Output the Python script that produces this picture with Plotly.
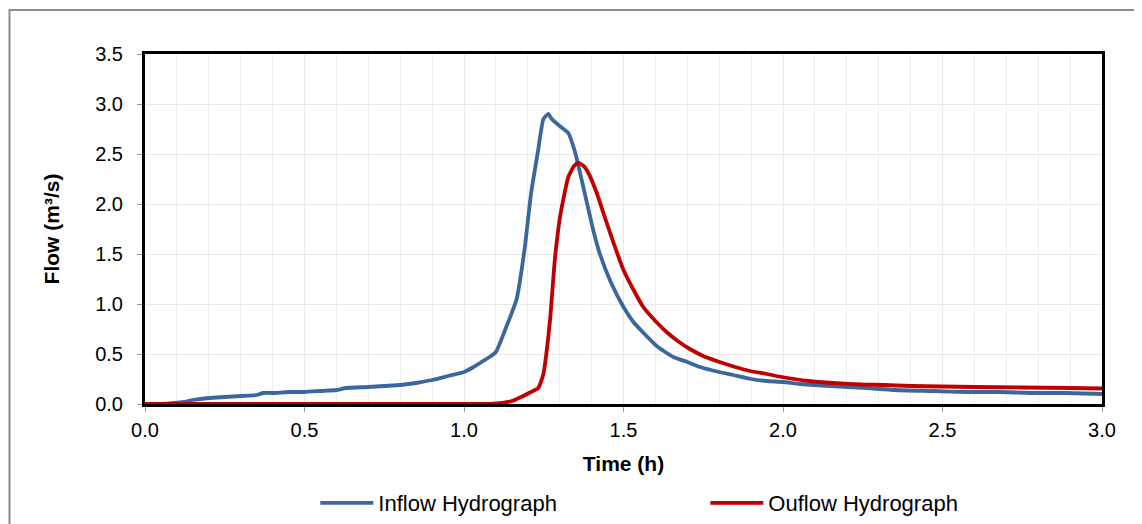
import plotly.graph_objects as go

# Inflow hydrograph
inflow_t = [0, 0.05, 0.09, 0.12, 0.15, 0.2, 0.25, 0.3, 0.35, 0.37, 0.4, 0.45, 0.5, 0.55, 0.6, 0.63,
            0.7, 0.75, 0.8, 0.85, 0.9, 0.95, 1.0, 1.03, 1.06, 1.08, 1.1, 1.13, 1.165, 1.19, 1.21,
            1.233, 1.249, 1.264, 1.275, 1.3, 1.327, 1.348, 1.374, 1.405, 1.426, 1.46, 1.5, 1.531,
            1.56, 1.604, 1.656, 1.7, 1.74, 1.8, 1.844, 1.9, 1.949, 2.0, 2.053, 2.15, 2.262, 2.35,
            2.471, 2.58, 2.68, 2.78, 2.889, 3.0]
inflow_q = [0, 0, 0.01, 0.02, 0.04, 0.06, 0.07, 0.08, 0.09, 0.11, 0.11, 0.12, 0.12, 0.13, 0.14, 0.16,
            0.17, 0.18, 0.19, 0.21, 0.24, 0.28, 0.32, 0.37, 0.43, 0.47, 0.52, 0.75, 1.05, 1.55, 2.1,
            2.55, 2.85, 2.9, 2.85, 2.78, 2.71, 2.52, 2.17, 1.74, 1.5, 1.22, 0.97, 0.82,
            0.72, 0.58, 0.47, 0.42, 0.37, 0.32, 0.29, 0.25, 0.23, 0.22, 0.2, 0.18, 0.16, 0.14,
            0.13, 0.12, 0.12, 0.11, 0.11, 0.1]

# Outflow hydrograph
outflow_t = [0, 1.08, 1.12, 1.15, 1.186, 1.21, 1.233, 1.249, 1.26, 1.27, 1.285, 1.301, 1.327, 1.345,
             1.358, 1.375, 1.39, 1.415, 1.437, 1.47, 1.5, 1.53, 1.562, 1.6, 1.635, 1.67, 1.708, 1.75,
             1.792, 1.85, 1.897, 1.95, 1.996, 2.08, 2.158, 2.25, 2.315, 2.4, 2.497, 2.6, 2.75, 2.9, 3.0]
outflow_q = [0, 0, 0.01, 0.03, 0.08, 0.12, 0.16, 0.3, 0.55, 0.85, 1.45, 1.87, 2.27, 2.38,
             2.41, 2.38, 2.31, 2.12, 1.91, 1.6, 1.34, 1.15, 0.97, 0.83, 0.72, 0.63, 0.55, 0.48,
             0.43, 0.37, 0.33, 0.3, 0.27, 0.23, 0.21, 0.195, 0.19, 0.18, 0.175, 0.17, 0.165, 0.16, 0.155]

series_names = ["Inflow Hydrograph", "Ouflow Hydrograph"]

FONT = "Liberation Sans, Arial, sans-serif"

fig = go.Figure()
fig.add_trace(go.Scatter(x=inflow_t, y=inflow_q, mode="lines", name=series_names[0],
                         line=dict(color="#3b679c", width=3.8, shape="spline", smoothing=0.5)))
fig.add_trace(go.Scatter(x=outflow_t, y=outflow_q, mode="lines", name=series_names[1],
                         line=dict(color="#c00000", width=3.8, shape="spline", smoothing=0.5)))

fig.update_layout(
    width=1126, height=530,
    margin=dict(l=137, r=32, t=46, b=134),
    paper_bgcolor="white", plot_bgcolor="white",
    font=dict(family=FONT, size=20, color="#000"),
    showlegend=True,
    legend=dict(orientation="h", x=0.178, xanchor="left", y=-0.283, yanchor="middle",
                font=dict(size=22), entrywidth=322, itemwidth=53,
                bgcolor="rgba(0,0,0,0)"),
    xaxis=dict(range=[0, 3.0], dtick=0.5, tickformat=".1f",
               showgrid=True, gridcolor="#e8e8e8", gridwidth=1,
               minor=dict(dtick=0.1, showgrid=True, gridcolor="#eeeeee", gridwidth=1),
               showline=True, linecolor="black", linewidth=3, mirror=True,
               ticks="outside", tickcolor="#999", ticklen=5, zeroline=False,
               ticklabelstandoff=1,
               title=dict(text="<b>Time (h)</b>", font=dict(size=21), standoff=17)),
    yaxis=dict(range=[0, 3.5], dtick=0.5, tickformat=".1f",
               showgrid=True, gridcolor="#e8e8e8", gridwidth=1,
               showline=True, linecolor="black", linewidth=3, mirror=True,
               ticks="outside", tickcolor="#999", ticklen=5, zeroline=False,
               ticklabelstandoff=10,
               title=dict(text="<b>Flow (m³/s)</b>", font=dict(size=21), standoff=30)),
    shapes=[dict(type="rect", xref="paper", yref="paper",
                 x0=-0.1416, x1=1.2, y0=-0.6, y1=1.1257,
                 line=dict(color="#8c8c8c", width=2), fillcolor="rgba(0,0,0,0)", layer="below")],
)

fig.write_html("out.html")
